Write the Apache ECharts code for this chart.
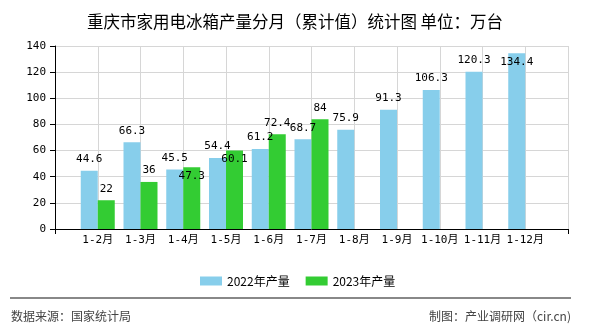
<!DOCTYPE html>
<html>
<head>
<meta charset="utf-8">
<script src="https://cdn.jsdelivr.net/npm/echarts@6/dist/echarts.min.js"></script>
<style>html,body{margin:0;padding:0;background:#fff}#c{width:590px;height:330px}</style>
</head>
<body>
<div id="c"></div>
<script>
const titleText = '重庆市家用电冰箱产量分月（累计值）统计图 单位：万台';
const categories = ['1-2月','1-3月','1-4月','1-5月','1-6月','1-7月','1-8月','1-9月','1-10月','1-11月','1-12月'];
const seriesNames = ['2022年产量','2023年产量'];
const values2022 = [44.6,66.3,45.5,54.4,61.2,68.7,75.9,91.3,106.3,120.3,134.4];
const values2023 = [22,36,47.3,60.1,72.4,84,null,null,null,null,null];
const yMin = 0, yMax = 140, yStep = 20;
const sourceText = '数据来源：国家统计局';
const creditText = '制图：产业调研网（cir.cn)';

// label placement exceptions (indices whose value labels sit inside the bar top)
const inside2022 = [10];
const inside2023 = [2,3];

const monoFont = 'DejaVu Sans Mono, Noto Sans CJK SC, monospace';
const cjkFont = 'Noto Sans CJK SC, sans-serif';

function buildData(vals, insideIdx) {
  const out = [];
  vals.forEach((v, i) => {
    if (v === null || v === undefined) return;
    const item = { value: [i + 1, v] };
    if (insideIdx.indexOf(i) >= 0) {
      item.label = { position: 'insideTop', distance: 3 };
    }
    out.push(item);
  });
  return out;
}

const chart = echarts.init(document.getElementById('c'), null, { renderer: 'canvas' });
const labelStyle = {
  show: true, position: 'top', distance: 6, color: '#000',
  fontFamily: monoFont, fontSize: 11,
  formatter: p => String(p.value[1])
};
chart.setOption({
  animation: false,
  backgroundColor: '#fff',
  title: {
    text: titleText, left: 'center', top: 8,
    textStyle: { fontFamily: cjkFont, fontSize: 16.5, fontWeight: 'normal', color: '#000' }
  },
  legend: {
    data: seriesNames, left: 195, top: 270, icon: 'rect',
    itemWidth: 22, itemHeight: 9, itemGap: 16,
    textStyle: { fontFamily: cjkFont, fontSize: 12, color: '#000' }
  },
  grid: { left: 55, right: 22, top: 46, bottom: 101, containLabel: false },
  xAxis: [{
    type: 'value', min: 0, max: categories.length + 1, interval: 1,
    axisLine: { show: true, lineStyle: { color: '#000', width: 1 } },
    axisTick: { show: false },
    splitLine: { show: true, lineStyle: { color: '#d6d6d6', width: 1 } },
    axisLabel: {
      margin: 6, color: '#000', fontFamily: monoFont, fontSize: 11,
      formatter: v => categories[v - 1] || ''
    }
  }, {
    type: 'value', min: 0, max: categories.length + 1, interval: categories.length + 1,
    position: 'bottom',
    axisLine: { show: false },
    axisTick: { show: true, length: 5, lineStyle: { color: '#000' } },
    axisLabel: { show: false },
    splitLine: { show: false }
  }],
  yAxis: {
    type: 'value', min: yMin, max: yMax, interval: yStep,
    axisLine: { show: true, lineStyle: { color: '#000', width: 1 } },
    axisTick: { show: true, length: 5, lineStyle: { color: '#000' } },
    splitLine: { show: true, lineStyle: { color: '#d6d6d6', width: 1 } },
    axisLabel: { margin: 9, color: '#000', fontFamily: monoFont, fontSize: 11 }
  },
  series: [{
    name: seriesNames[0], type: 'bar', xAxisIndex: 0,
    barWidth: 17, barGap: '0%',
    itemStyle: { color: '#87CEEB', borderRadius: 0, borderWidth: 0 },
    label: labelStyle,
    data: buildData(values2022, inside2022)
  }, {
    name: seriesNames[1], type: 'bar', xAxisIndex: 0,
    barWidth: 17, barGap: '0%',
    itemStyle: { color: '#33CC33', borderRadius: 0, borderWidth: 0 },
    label: labelStyle,
    data: buildData(values2023, inside2023)
  }],
  graphic: [{
    type: 'line', shape: { x1: 10, y1: 298, x2: 571, y2: 298 },
    style: { stroke: '#888', lineWidth: 2 }
  }, {
    type: 'text', left: 11, top: 310,
    style: { text: sourceText, font: '12px ' + cjkFont, fill: '#444' }
  }, {
    type: 'text', right: 19, top: 310,
    style: { text: creditText, font: '12px ' + cjkFont, fill: '#444' }
  }]
});
</script>
</body>
</html>
